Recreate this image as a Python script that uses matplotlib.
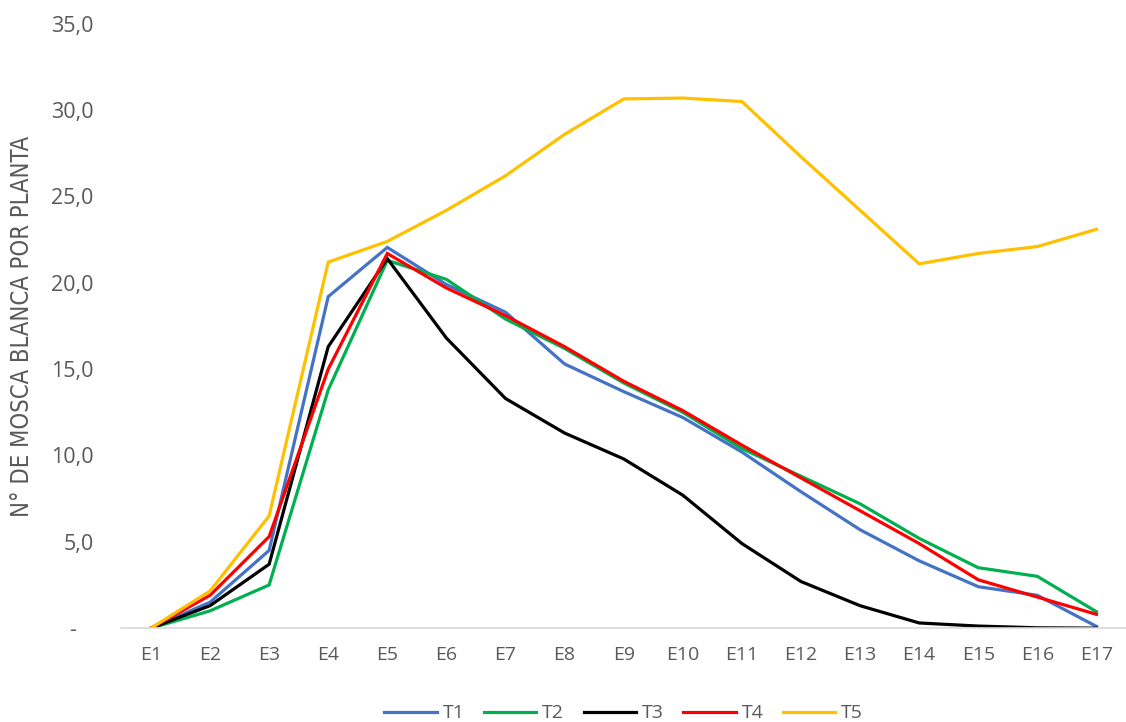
import matplotlib.pyplot as plt
from matplotlib.ticker import FuncFormatter

plt.rcParams['font.family'] = ['Open Sans', 'DejaVu Sans']

# evaluaciones y tratamientos
etapas = ['E%d' % i for i in range(1, 18)]
t1 = [0, 1.5, 4.5, 19.2, 22.05, 19.9, 18.3, 15.3, 13.7, 12.2, 10.2, 7.9, 5.7, 3.9, 2.4, 1.9, 0.1]
t2 = [0, 1.0, 2.5, 13.8, 21.3, 20.2, 17.9, 16.2, 14.2, 12.5, 10.4, 8.8, 7.2, 5.2, 3.5, 3.0, 0.95]
t3 = [0, 1.3, 3.7, 16.3, 21.4, 16.8, 13.3, 11.3, 9.8, 7.7, 4.9, 2.7, 1.3, 0.3, 0.12, 0.02, 0.0]
t4 = [0, 1.9, 5.3, 15.0, 21.7, 19.7, 18.1, 16.3, 14.3, 12.6, 10.6, 8.7, 6.8, 4.9, 2.8, 1.8, 0.8]
t5 = [0, 2.15, 6.5, 21.2, 22.4, 24.2, 26.2, 28.6, 30.65, 30.7, 30.5, 27.3, 24.2, 21.1, 21.7, 22.1, 23.1]

series = [('T1', t1, '#4472C4'), ('T2', t2, '#00B050'), ('T3', t3, '#000000'),
          ('T4', t4, '#FF0000'), ('T5', t5, '#FFC000')]

gris = '#595959'

fig = plt.figure(figsize=(11.26, 7.22), dpi=100)
ax = fig.add_axes([0.1078, 0.130, 0.8922, 0.837])

x = range(len(etapas))
for nombre, vals, color in series:
    ax.plot(x, vals, color=color, lw=2.3, label=nombre, solid_joinstyle='miter')

ax.set_xlim(-0.5, len(etapas) - 0.5)
ax.set_ylim(0, 35)
ax.set_yticks([0, 5, 10, 15, 20, 25, 30, 35])
ax.yaxis.set_major_formatter(FuncFormatter(lambda v, p: '-   ' if v == 0 else ('%.1f' % v).replace('.', ',')))
ax.set_xticks(list(x))
ax.set_xticklabels(etapas)

ax.tick_params(axis='both', length=0, labelsize=14, labelcolor=gris)
ax.tick_params(axis='y', pad=20, labelsize=15.5)
ax.tick_params(axis='x', pad=13)
for s in ['top', 'right', 'left']:
    ax.spines[s].set_visible(False)
ax.spines['bottom'].set_color('#D9D9D9')
ax.spines['bottom'].set_linewidth(1.2)

ax.set_ylabel('N° DE MOSCA BLANCA POR PLANTA', fontsize=17, color=gris,
              family='DejaVu Sans', fontstretch='condensed', labelpad=12)

leg = ax.legend(loc='center', bbox_to_anchor=(0.5, -0.141), ncol=5, frameon=False,
                handlelength=2.7, handletextpad=0.3, columnspacing=1.0,
                prop={'size': 14})
for t in leg.get_texts():
    t.set_color(gris)

plt.savefig('out.png', dpi=100)
